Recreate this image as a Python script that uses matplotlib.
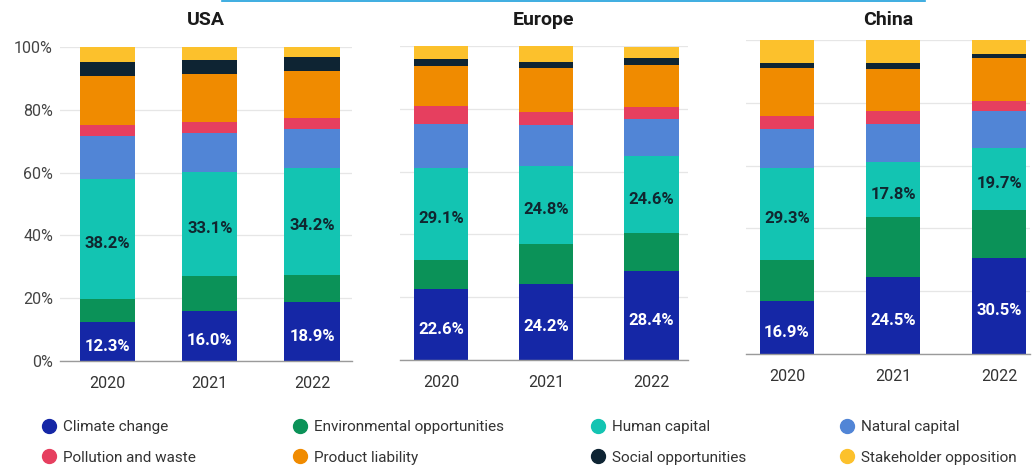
import numpy as np
import matplotlib.pyplot as plt
from matplotlib.lines import Line2D

plt.rcParams['font.family'] = ['Roboto', 'DejaVu Sans']

### data
regions = ['USA', 'Europe', 'China']
years = ['2020', '2021', '2022']
categories = ['Climate change', 'Environmental opportunities', 'Human capital',
              'Natural capital', 'Pollution and waste', 'Product liability',
              'Social opportunities', 'Stakeholder opposition']
colors = ['#1527a6', '#0b9258', '#13c4b2', '#5185d6',
          '#e63f5f', '#f08b00', '#0e2433', '#fcc12c']

# share per category (rows) for 2020, 2021, 2022
usa = [[12.3, 16.0, 18.9],
       [7.4, 11.0, 8.5],
       [38.2, 33.1, 34.2],
       [13.7, 12.4, 12.4],
       [3.7, 3.7, 3.4],
       [15.4, 15.2, 15.0],
       [4.6, 4.5, 4.3],
       [4.6, 4.0, 3.2]]
europe = [[22.6, 24.2, 28.4],
          [9.3, 12.9, 11.9],
          [29.1, 24.8, 24.6],
          [14.3, 12.8, 11.9],
          [5.7, 4.2, 3.9],
          [12.5, 14.0, 13.4],
          [2.3, 2.1, 2.1],
          [4.2, 5.0, 3.6]]
china = [[16.9, 24.5, 30.5],
         [13.0, 19.0, 15.5],
         [29.3, 17.8, 19.7],
         [12.4, 12.0, 11.6],
         [4.2, 4.2, 3.3],
         [15.4, 13.3, 13.8],
         [1.6, 1.8, 1.1],
         [7.2, 7.4, 4.5]]
region_data = [usa, europe, china]
labelled = {0: 'white', 2: '#10262f'}   # categories with value labels

### layout (pixels in a 1032x467 figure)
W, H = 1032, 467
panels = [  # left, right, top, bottom, xlim, bar width
    (60, 352, 47, 361, (-0.465, 2.39), 0.54),
    (400, 688, 46, 360, (-0.39, 2.35), 0.52),
    (746, 1030, 40, 354, (-0.387, 2.29), 0.51),
]

fig = plt.figure(figsize=(W / 100, H / 100), dpi=100)
x = np.arange(len(years))

for i, (name, data, (l, r, t, b, xlim, bw)) in enumerate(zip(regions, region_data, panels)):
    ax = fig.add_axes([l / W, (H - b) / H, (r - l) / W, (b - t) / H])
    bottom = np.zeros(len(years))
    for c, vals in enumerate(data):
        vals = np.array(vals)
        ax.bar(x, vals, bw, bottom=bottom, color=colors[c], zorder=2)
        if c in labelled:
            for j, v in enumerate(vals):
                ax.text(x[j], bottom[j] + v / 2 - 1.5, f'{v:.1f}%',
                        ha='center', va='center', fontsize=12,
                        fontweight='bold', color=labelled[c], zorder=3)
        bottom += vals
    ax.set_xlim(*xlim)
    ax.set_ylim(0, 100)
    ax.set_yticks(np.arange(0, 101, 20))
    ax.yaxis.grid(True, color='#e6e6e6', linewidth=0.9, zorder=0)
    ax.set_axisbelow(True)
    ax.set_xticks(x)
    ax.set_xticklabels(years, fontsize=11.5, color='#333333')
    if i == 0:
        ax.set_yticklabels([f'{v}%' for v in range(0, 101, 20)],
                           fontsize=11.5, color='#444444')
    else:
        ax.set_yticklabels([])
    ax.tick_params(length=0, axis='x', pad=11)
    ax.tick_params(length=0, axis='y', pad=5)
    for s in ['top', 'right', 'left']:
        ax.spines[s].set_visible(False)
    ax.spines['bottom'].set_color('#9a9a9a')
    ax.spines['bottom'].set_linewidth(1.0)
    fig.text((l + r) / 2 / W, (H - 20) / H, name, ha='center', va='center',
             fontsize=14, fontweight='bold', color='#1a1a1a')

# thin blue line at the top edge of the screenshot
fig.add_artist(Line2D([222 / W, 925 / W], [1 - 0.8 / H, 1 - 0.8 / H],
                      color='#1ea0dc', linewidth=1.2))

### legend: 4 columns, 2 rows
col_x = [49, 300, 598, 847]
for k, cx in enumerate(col_x):
    idx = [k, k + 4]
    handles = [Line2D([], [], marker='o', linestyle='none', markersize=10,
                      markerfacecolor=colors[n], markeredgecolor=colors[n])
               for n in idx]
    fig.legend(handles, [categories[n] for n in idx], loc='center left',
               bbox_to_anchor=((cx - 7.5) / W, (H - 442.5) / H),
               frameon=False, fontsize=11, labelcolor='#333333',
               handlelength=1.0, handletextpad=0.4, labelspacing=1.05,
               borderpad=0, borderaxespad=0)

fig.savefig('out.png', dpi=100)
